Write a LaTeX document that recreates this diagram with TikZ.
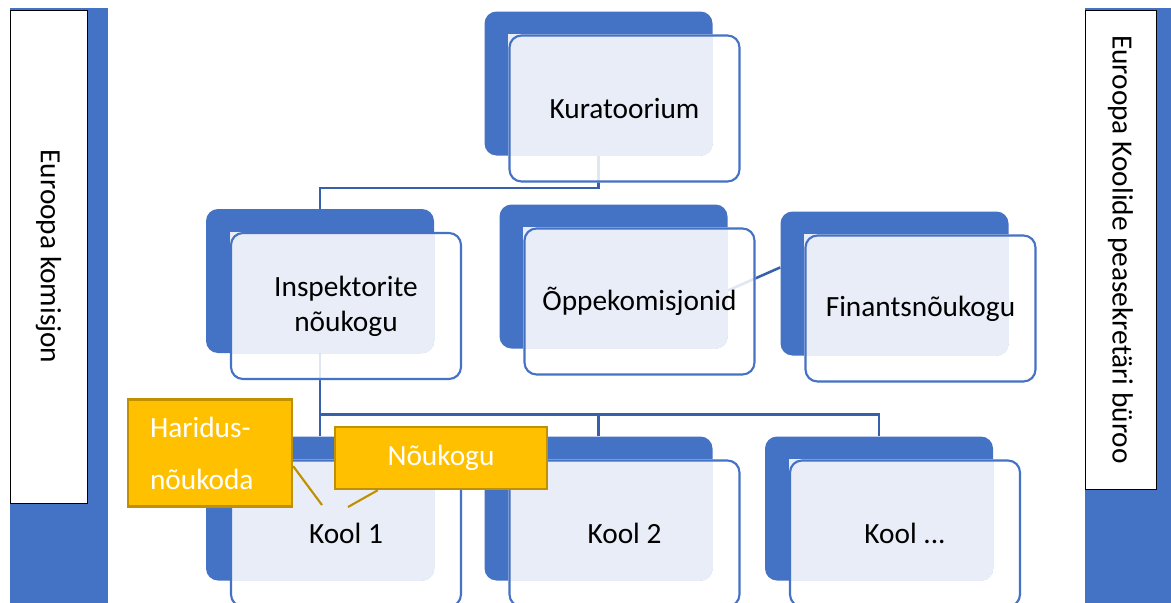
\documentclass[tikz,border=0pt]{standalone}
\usepackage{fontspec}
\setmainfont{Carlito}
\usetikzlibrary{positioning,calc}
\pgfdeclarelayer{lines}
\pgfdeclarelayer{background}
\pgfsetlayers{lines,background,main}
\definecolor{boxblue}{HTML}{4472C4}
\definecolor{boxlight}{HTML}{E9EDF7}
\definecolor{linkblue}{HTML}{3760AC}
\definecolor{calloutfill}{HTML}{FFC000}
\definecolor{calloutdraw}{HTML}{BF9000}
\tikzset{
  frontbox/.style={draw=boxblue, line width=1.6pt, rounded corners=9pt, minimum width=172.5pt,
    minimum height=109.5pt, align=center, inner sep=0pt, font=\fontsize{22}{26}\selectfont},
  backbox/.style={fill=boxblue, rounded corners=9pt, minimum width=171pt, minimum height=108pt, inner sep=0pt},
  link/.style={draw=linkblue, line width=1.9pt},
  callout/.style={fill=calloutfill, draw=calloutdraw, line width=1.8pt, text=white, inner sep=0pt},
  calloutline/.style={draw=calloutdraw, line width=1.6pt},
  sidebox/.style={draw=black, line width=0.6pt, fill=white, rotate=-90, inner sep=0pt,
    font=\fontsize{22}{26}\selectfont},
  sideblue/.style={fill=boxblue, inner sep=0pt}
}
% front box with text, blue box behind it, light where they overlap
\newcommand{\orgbox}[4]{%
  \node[frontbox] (#1) at (#2,#3) {#4};
  \begin{pgfonlayer}{background}
    \fill[white, fill opacity=0.85, rounded corners=9pt] (#1.south west) rectangle (#1.north east);
    \node[backbox] (#1B) at ([shift={(-26,-25)}]#1.center) {};
    \begin{scope}
      \clip[rounded corners=9pt] (#1B.south west) rectangle (#1B.north east);
      \fill[boxlight] (#1.south west) rectangle (#1.north east);
    \end{scope}
  \end{pgfonlayer}}
\begin{document}
\begin{tikzpicture}[x=0.75pt, y=-0.75pt]
  \useasboundingbox (0,0) rectangle (1171,603);
  % side panels
  \node[sideblue, minimum width=73.5pt, minimum height=446.25pt] (komB) at (59,305.5) {};
  \node[sidebox, minimum width=369.75pt, minimum height=57.75pt] (kom) at (48.5,256.5) {Euroopa komisjon};
  \node[sideblue, minimum width=64.5pt, minimum height=446.25pt] (buroB) at (1128,305.5) {};
  \node[sidebox, minimum width=359.25pt, minimum height=53.25pt] (buro) at (1120.5,249.5) {Euroopa Koolide peasekretäri büroo};
  % organs
  \orgbox{kur}{624.5}{108.5}{Kuratoorium}
  \orgbox{ins}{346}{306}{Inspektorite\\nõukogu}
  \orgbox{opp}{639.5}{301.5}{Õppekomisjonid}
  \orgbox{fin}{920.5}{308.5}{Finantsnõukogu}
  \orgbox{kA}{346}{533.5}{Kool 1}
  \orgbox{kB}{624.5}{533.5}{Kool 2}
  \orgbox{kC}{905}{533.5}{Kool .{}.{}.}
  % connectors
  \begin{pgfonlayer}{lines}
    \draw[link] (kurB.south) -- ++(0,32) -| (insB.north);
    \draw[link] (oppB.-7) -- (finB.172);
    \draw[link] (insB.south) -- ++(0,61) coordinate (bus) -| (kCB.north);
    \draw[link] (bus) -- (kAB.north);
    \draw[link] (bus -| kBB.north) -- (kBB.north);
  \end{pgfonlayer}
  % school bodies
  \node[callout, minimum width=123pt, minimum height=80.25pt, text width=90pt, align=left,
    font=\fontsize{22}{39}\selectfont] (har) at (210,453) {Haridus-\\nõukoda};
  \node[callout, minimum width=159pt, minimum height=46.5pt,
    font=\fontsize{22}{26}\selectfont] (nou) at (441,458) {Nõukogu};
  \coordinate (harEnd) at (322,505);
  \coordinate (nouEnd) at (348,507);
  \draw[calloutline] (har.-9) -- (harEnd);
  \draw[calloutline] (nou.-153) -- (nouEnd);
\end{tikzpicture}
\end{document}
